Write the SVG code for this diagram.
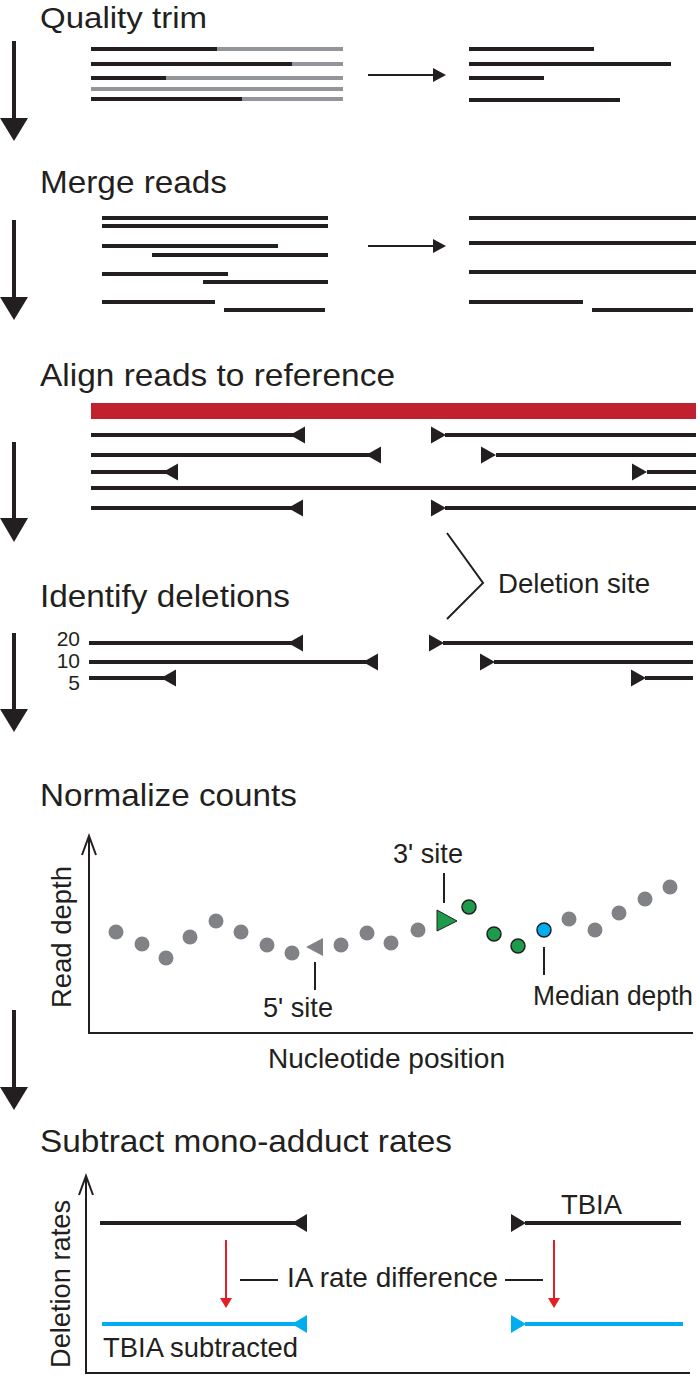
<svg xmlns="http://www.w3.org/2000/svg" width="700" height="1376" viewBox="0 0 700 1376">
<defs>
<style>
.t{font-family:"Liberation Sans",Arial,sans-serif;font-size:31.5px;fill:#231f20}
.l{font-family:"Liberation Sans",Arial,sans-serif;font-size:28px;fill:#231f20}
.n{font-family:"Liberation Sans",Arial,sans-serif;font-size:21px;fill:#231f20}
.r{stroke:#231f20;stroke-width:4;fill:none}
.g{stroke:#939598;stroke-width:4;fill:none}
.th{stroke:#231f20;stroke-width:2;fill:none}
.tri{fill:#231f20}
.dot{fill:#808285}
.blue{stroke:#00aeef;stroke-width:4;fill:none}
.red{stroke:#e31e24;stroke-width:2;fill:none}
</style>
</defs>
<rect width="700" height="1376" fill="#fff"/>

<g id="connectors">
  <g class="tri">
    <rect x="12" y="41" width="4" height="78"/><polygon points="0,118 28,118 14,141"/>
    <rect x="12" y="220" width="4" height="78"/><polygon points="0,297 28,297 14,320"/>
    <rect x="12" y="442" width="4" height="77"/><polygon points="0,518 28,518 14,542"/>
    <rect x="12" y="633" width="4" height="77"/><polygon points="0,709 28,709 14,732"/>
    <rect x="12" y="1010" width="4" height="78"/><polygon points="0,1087 28,1087 14,1110"/>
  </g>
  <line class="th" x1="368" y1="75" x2="434" y2="75"/><polygon class="tri" points="433,68 446,75 433,82"/>
  <line class="th" x1="368" y1="246" x2="434" y2="246"/><polygon class="tri" points="433,239 446,246 433,253"/>
</g>

<g id="quality-trim">
  <text class="t" x="40" y="28" style="font-size:30px" textLength="167" lengthAdjust="spacingAndGlyphs">Quality trim</text>
  <line class="g" x1="91" y1="49" x2="343" y2="49"/><line class="r" x1="91" y1="49" x2="217" y2="49"/>
  <line class="g" x1="91" y1="64" x2="343" y2="64"/><line class="r" x1="91" y1="64" x2="292" y2="64"/>
  <line class="g" x1="91" y1="78" x2="343" y2="78"/><line class="r" x1="91" y1="78" x2="166" y2="78"/>
  <line class="g" x1="91" y1="89" x2="343" y2="89"/>
  <line class="g" x1="91" y1="99" x2="343" y2="99"/><line class="r" x1="91" y1="99" x2="242" y2="99"/>
  <line class="r" x1="469" y1="49" x2="594" y2="49"/>
  <line class="r" x1="469" y1="64" x2="671" y2="64"/>
  <line class="r" x1="469" y1="78" x2="544" y2="78"/>
  <line class="r" x1="469" y1="100" x2="620" y2="100"/>
</g>

<g id="merge-reads">
  <text class="t" x="40" y="193" textLength="187" lengthAdjust="spacingAndGlyphs">Merge reads</text>
  <line class="r" x1="102" y1="218" x2="328" y2="218"/>
  <line class="r" x1="102" y1="226" x2="328" y2="226"/>
  <line class="r" x1="102" y1="246" x2="278" y2="246"/>
  <line class="r" x1="152" y1="255" x2="328" y2="255"/>
  <line class="r" x1="102" y1="274" x2="228" y2="274"/>
  <line class="r" x1="203" y1="282" x2="328" y2="282"/>
  <line class="r" x1="102" y1="302" x2="215" y2="302"/>
  <line class="r" x1="224" y1="310" x2="325" y2="310"/>
  <line class="r" x1="469" y1="218" x2="696" y2="218"/>
  <line class="r" x1="469" y1="243" x2="696" y2="243"/>
  <line class="r" x1="469" y1="272" x2="696" y2="272"/>
  <line class="r" x1="469" y1="302" x2="583" y2="302"/>
  <line class="r" x1="592" y1="310" x2="693" y2="310"/>
</g>

<g id="align-reads">
  <text class="t" x="40" y="386" textLength="355" lengthAdjust="spacingAndGlyphs">Align reads to reference</text>
  <rect x="91" y="403" width="605" height="16" fill="#c1202f"/>
  <line class="r" x1="91" y1="435" x2="304" y2="435"/><polygon class="tri" points="305,426.5 305,443.5 290,435"/>
  <line class="r" x1="445" y1="435" x2="696" y2="435"/><polygon class="tri" points="431,426.5 431,443.5 446,435"/>
  <line class="r" x1="91" y1="455" x2="380" y2="455"/><polygon class="tri" points="381,446.5 381,463.5 366,455"/>
  <line class="r" x1="496" y1="455" x2="696" y2="455"/><polygon class="tri" points="481,446.5 481,463.5 496,455"/>
  <line class="r" x1="91" y1="472" x2="177" y2="472"/><polygon class="tri" points="178,463.5 178,480.5 163,472"/>
  <line class="r" x1="647" y1="472" x2="696" y2="472"/><polygon class="tri" points="632,463.5 632,480.5 647,472"/>
  <line class="r" x1="91" y1="488" x2="696" y2="488"/>
  <line class="r" x1="91" y1="508" x2="302" y2="508"/><polygon class="tri" points="303,499.5 303,516.5 288,508"/>
  <line class="r" x1="445" y1="508" x2="696" y2="508"/><polygon class="tri" points="431,499.5 431,516.5 446,508"/>
</g>

<g id="deletion-site">
  <polyline class="th" points="447,533 483,583 447,619"/>
  <text class="l" x="498" y="593" textLength="152" lengthAdjust="spacingAndGlyphs">Deletion site</text>
</g>

<g id="identify-deletions">
  <text class="t" x="40" y="607" textLength="250" lengthAdjust="spacingAndGlyphs">Identify deletions</text>
  <text class="n" x="80" y="646" text-anchor="end">20</text>
  <text class="n" x="80" y="668" text-anchor="end">10</text>
  <text class="n" x="80" y="690" text-anchor="end">5</text>
  <line class="r" x1="89" y1="643" x2="302" y2="643"/><polygon class="tri" points="303,634.5 303,651.5 288,643"/>
  <line class="r" x1="443" y1="643" x2="693" y2="643"/><polygon class="tri" points="429,634.5 429,651.5 444,643"/>
  <line class="r" x1="89" y1="662" x2="377" y2="662"/><polygon class="tri" points="378,653.5 378,670.5 363,662"/>
  <line class="r" x1="494" y1="662" x2="693" y2="662"/><polygon class="tri" points="480,653.5 480,670.5 495,662"/>
  <line class="r" x1="89" y1="678" x2="175" y2="678"/><polygon class="tri" points="176,669.5 176,686.5 161,678"/>
  <line class="r" x1="645" y1="678" x2="693" y2="678"/><polygon class="tri" points="631,669.5 631,686.5 646,678"/>
</g>

<g id="normalize-counts">
  <text class="t" x="40" y="806" textLength="257" lengthAdjust="spacingAndGlyphs">Normalize counts</text>
  <polyline class="th" points="89,836 89,1033 693,1033"/>
  <polyline class="th" points="82,855 89,836 96,855"/>
  <text class="l" transform="translate(71,937) rotate(-90)" text-anchor="middle" textLength="142" lengthAdjust="spacingAndGlyphs">Read depth</text>
  <text class="l" x="268" y="1068" textLength="237" lengthAdjust="spacingAndGlyphs">Nucleotide position</text>
  <g class="dot">
    <circle cx="116" cy="932" r="7.5"/><circle cx="142" cy="944" r="7.5"/><circle cx="166" cy="958" r="7.5"/>
    <circle cx="190" cy="937" r="7.5"/><circle cx="216" cy="921" r="7.5"/><circle cx="241" cy="932" r="7.5"/>
    <circle cx="267" cy="945" r="7.5"/><circle cx="292" cy="953" r="7.5"/><circle cx="341" cy="945" r="7.5"/>
    <circle cx="367" cy="933" r="7.5"/><circle cx="391" cy="943" r="7.5"/><circle cx="418" cy="930" r="7.5"/>
    <circle cx="569" cy="919" r="7.5"/><circle cx="595" cy="930" r="7.5"/><circle cx="619" cy="913" r="7.5"/>
    <circle cx="645" cy="899" r="7.5"/><circle cx="670" cy="887" r="7.5"/>
    <polygon points="323,938 323,956 306,947"/>
  </g>
  <polygon points="437,910 437,931 457,921" fill="#1e9b4a" stroke="#231f20" stroke-width="1"/>
  <g fill="#1e9b4a" stroke="#231f20" stroke-width="1.5">
    <circle cx="469" cy="907" r="7"/><circle cx="494" cy="934" r="7"/><circle cx="518" cy="946" r="7"/>
  </g>
  <circle cx="544" cy="930" r="7" fill="#00aeef" stroke="#231f20" stroke-width="1.5"/>
  <line class="th" x1="315" y1="962" x2="315" y2="990"/>
  <text class="l" x="263" y="1017" textLength="70" lengthAdjust="spacingAndGlyphs">5' site</text>
  <line class="th" x1="444" y1="873" x2="444" y2="903"/>
  <text class="l" x="393" y="863" textLength="70" lengthAdjust="spacingAndGlyphs">3' site</text>
  <line class="th" x1="544" y1="947" x2="544" y2="975"/>
  <text class="l" x="533" y="1005" textLength="160" lengthAdjust="spacingAndGlyphs">Median depth</text>
</g>

<g id="subtract-rates">
  <text class="t" x="40" y="1152" textLength="412" lengthAdjust="spacingAndGlyphs">Subtract mono-adduct rates</text>
  <polyline class="th" points="86,1176 86,1373 690,1373"/>
  <polyline class="th" points="79,1195 86,1176 93,1195"/>
  <text class="l" transform="translate(70,1284) rotate(-90)" text-anchor="middle" textLength="168" lengthAdjust="spacingAndGlyphs">Deletion rates</text>
  <line class="r" x1="100" y1="1223" x2="306" y2="1223"/><polygon class="tri" points="307,1214 307,1232 292,1223"/>
  <line class="r" x1="525" y1="1223" x2="681" y2="1223"/><polygon class="tri" points="511,1214 511,1232 526,1223"/>
  <text class="l" x="561" y="1214" textLength="61" lengthAdjust="spacingAndGlyphs">TBIA</text>
  <line class="red" x1="226" y1="1240" x2="226" y2="1300"/><polygon points="220,1298 232,1298 226,1308" fill="#e31e24"/>
  <line class="red" x1="554" y1="1240" x2="554" y2="1300"/><polygon points="548,1298 560,1298 554,1308" fill="#e31e24"/>
  <line class="th" x1="240" y1="1280" x2="278" y2="1280"/>
  <text class="l" x="287" y="1287" textLength="211" lengthAdjust="spacingAndGlyphs">IA rate difference</text>
  <line class="th" x1="505" y1="1280" x2="543" y2="1280"/>
  <line class="blue" x1="102" y1="1324" x2="306" y2="1324"/><polygon points="307,1315 307,1333 292,1324" fill="#00aeef"/>
  <line class="blue" x1="525" y1="1324" x2="683" y2="1324"/><polygon points="511,1315 511,1333 526,1324" fill="#00aeef"/>
  <text class="l" x="103" y="1357" textLength="195" lengthAdjust="spacingAndGlyphs">TBIA subtracted</text>
</g>
</svg>
